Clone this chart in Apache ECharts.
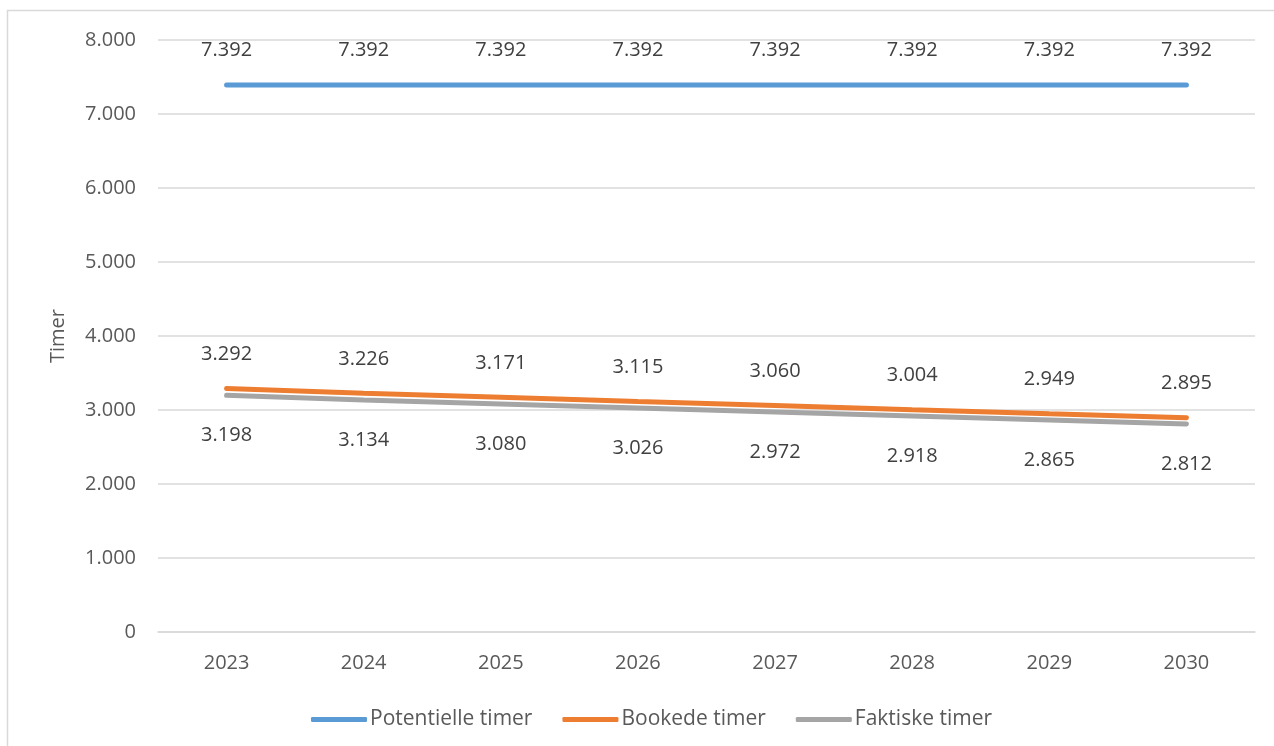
<!DOCTYPE html>
<html><head><meta charset="utf-8">
<script src="https://cdn.jsdelivr.net/npm/echarts@6/dist/echarts.min.js"></script>
<style>html,body{margin:0;padding:0;background:#fff}#c{width:1274px;height:746px}</style>
</head><body><div id="c"></div>
<script>
const years = ['2023','2024','2025','2026','2027','2028','2029','2030'];
const potentielle = [7392,7392,7392,7392,7392,7392,7392,7392];
const bookede = [3292,3226,3171,3115,3060,3004,2949,2895];
const faktiske = [3198,3134,3080,3026,2972,2918,2865,2812];
const seriesNames = ['Potentielle timer','Bookede timer','Faktiske timer'];
const colors = ['#5b9bd5','#ed7d31','#a5a5a5'];
const FONT = '"Open Sans", "Noto Sans", sans-serif';
const fmt = v => v === 0 ? '0' : v.toLocaleString('de-DE');

const chart = echarts.init(document.getElementById('c'));
function mk(name, data, color, pos, z, dist) {
  return {
    name, type: 'line', data, z,
    symbol: 'circle', symbolSize: 0, showSymbol: true, smooth: false,
    lineStyle: { color, width: 5, cap: 'round' },
    itemStyle: { color },
    label: { show: true, position: pos, distance: dist, formatter: p => fmt(p.value), color: '#404040', fontSize: 20, fontFamily: FONT },
    emphasis: { disabled: true }
  };
}
chart.setOption({
  animation: false,
  color: colors,
  graphic: [{ type: 'rect', shape: { x: 7.5, y: 10.5, width: 1300, height: 800 }, style: { fill: 'none', stroke: '#d9d9d9', lineWidth: 1.5 }, silent: true }],
  grid: { left: 158, right: 19, top: 40, bottom: 114, containLabel: false },
  legend: {
    bottom: 11, left: 306, itemWidth: 56, itemHeight: 5, itemGap: 30,
    icon: 'roundRect',
    textStyle: { color: '#595959', fontSize: 21, fontFamily: FONT, padding: [0,0,0,-2] },
    data: seriesNames
  },
  xAxis: {
    type: 'category', data: years, boundaryGap: true,
    axisLine: { show: true, lineStyle: { color: '#d9d9d9', width: 1.5 } },
    axisTick: { show: false },
    axisLabel: { color: '#595959', fontSize: 20, fontFamily: FONT, margin: 21 }
  },
  yAxis: {
    type: 'value', min: 0, max: 8000, interval: 1000,
    name: 'Timer', nameLocation: 'middle', nameGap: 90, nameRotate: 90,
    nameTextStyle: { color: '#595959', fontSize: 20, fontFamily: FONT },
    axisLine: { show: false }, axisTick: { show: false },
    axisLabel: { color: '#595959', fontSize: 20, fontFamily: FONT, margin: 22, formatter: fmt },
    splitLine: { lineStyle: { color: '#d9d9d9', width: 1.5 } }
  },
  series: [
    mk(seriesNames[0], potentielle, colors[0], 'top', 3, 25),
    mk(seriesNames[1], bookede, colors[1], 'top', 3, 24),
    mk(seriesNames[2], faktiske, colors[2], 'bottom', 2, 30)
  ]
});
</script></body></html>
